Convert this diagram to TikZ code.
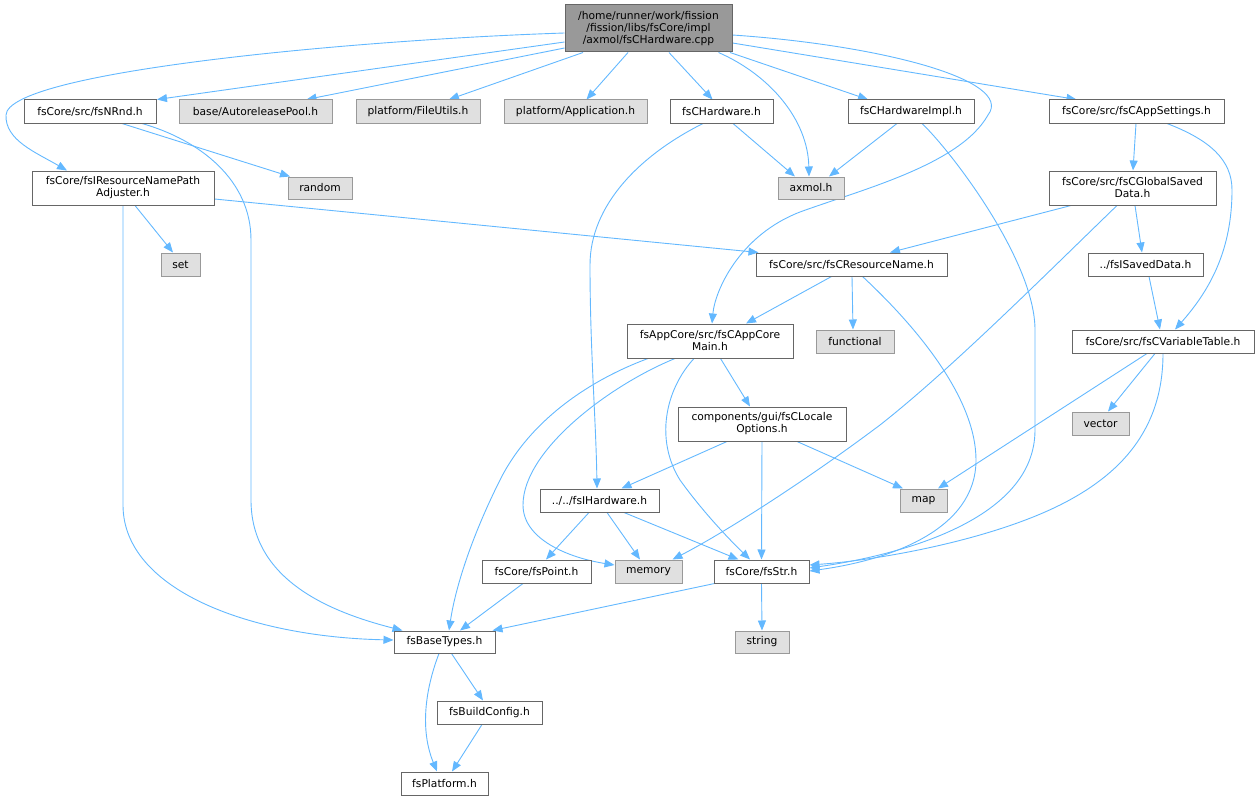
\documentclass[tikz,border=0pt]{standalone}
\usepackage{fontspec}
\setmainfont{DejaVu Sans}
\usetikzlibrary{arrows.meta,backgrounds}
\definecolor{edgec}{HTML}{63B8FF}
\definecolor{bdark}{HTML}{666666}
\definecolor{blight}{HTML}{999999}
\definecolor{gfill}{HTML}{E0E0E0}
\definecolor{rootfill}{HTML}{999999}
\newcommand\nodefont{\fontsize{10.7}{12}\selectfont}
\tikzset{
  wnode/.style={draw=bdark, fill=white, line width=1pt, inner sep=0pt, align=center, font=\nodefont, text=black},
  gnode/.style={draw=blight, fill=gfill, line width=1pt, inner sep=0pt, align=center, font=\nodefont, text=black},
  rnode/.style={draw=bdark, fill=rootfill, line width=1pt, inner sep=0pt, align=center, font=\nodefont, text=black},
  edge/.style={draw=edgec, line width=0.9pt, -{Triangle[length=10pt,width=8pt]}},
}
\begin{document}
\begin{tikzpicture}[x=1pt,y=-1pt]
\useasboundingbox (0,0) rectangle (1259,800);
% nodes
\node[rnode, minimum width=167pt, minimum height=47pt] (root) at (648.5,28.5) {/home/runner/work/fission\\/fission/libs/fsCore/impl\\/axmol/fsCHardware.cpp};
\node[wnode, minimum width=132pt, minimum height=23pt] (nrnd) at (90,111.5) {fsCore/src/fsNRnd.h};
\node[gnode, minimum width=153pt, minimum height=23pt] (pool) at (255.5,111.5) {base/AutoreleasePool.h};
\node[gnode, minimum width=124pt, minimum height=23pt] (fileutils) at (418,111.5) {platform/FileUtils.h};
\node[gnode, minimum width=143pt, minimum height=23pt] (app) at (575.5,111.5) {platform/Application.h};
\node[wnode, minimum width=103pt, minimum height=23pt] (fsch) at (721.5,111.5) {fsCHardware.h};
\node[wnode, minimum width=126pt, minimum height=23pt] (impl) at (911,111.5) {fsCHardwareImpl.h};
\node[wnode, minimum width=175pt, minimum height=23pt] (apps) at (1136.5,111.5) {fsCore/src/fsCAppSettings.h};
\node[gnode, minimum width=66pt, minimum height=22pt] (axmol) at (811,188) {axmol.h};
\node[gnode, minimum width=64pt, minimum height=22pt] (random) at (320,188) {random};
\node[wnode, minimum width=182pt, minimum height=34pt] (ira) at (123,188) {fsCore/fsIResourceNamePath\\Adjuster.h};
\node[wnode, minimum width=167pt, minimum height=34pt] (gsd) at (1132.5,188) {fsCore/src/fsCGlobalSaved\\Data.h};
\node[gnode, minimum width=39pt, minimum height=23pt] (set) at (180.5,264.5) {set};
\node[wnode, minimum width=191pt, minimum height=23pt] (resname) at (851.5,264.5) {fsCore/src/fsCResourceName.h};
\node[wnode, minimum width=115pt, minimum height=23pt] (isd) at (1145.5,264.5) {../fsISavedData.h};
\node[wnode, minimum width=166pt, minimum height=34pt] (acm) at (710,341) {fsAppCore/src/fsCAppCore\\Main.h};
\node[gnode, minimum width=78pt, minimum height=23pt] (functional) at (855,341.5) {functional};
\node[wnode, minimum width=182pt, minimum height=23pt] (cvt) at (1163,341.5) {fsCore/src/fsCVariableTable.h};
\node[gnode, minimum width=57pt, minimum height=23pt] (vector) at (1100.5,423.5) {vector};
\node[wnode, minimum width=168pt, minimum height=34pt] (locale) at (762,424) {components/gui/fsCLocale\\Options.h};
\node[gnode, minimum width=47pt, minimum height=23pt] (map) at (923.5,500.5) {map};
\node[wnode, minimum width=119pt, minimum height=23pt] (fsih) at (599.5,500.5) {../../fsIHardware.h};
\node[wnode, minimum width=109pt, minimum height=23pt] (point) at (536.5,571.5) {fsCore/fsPoint.h};
\node[gnode, minimum width=67pt, minimum height=23pt] (memory) at (648.5,571.5) {memory};
\node[wnode, minimum width=95pt, minimum height=23pt] (fsstr) at (761.5,571.5) {fsCore/fsStr.h};
\node[wnode, minimum width=101pt, minimum height=22pt] (bt) at (444.5,642) {fsBaseTypes.h};
\node[gnode, minimum width=54pt, minimum height=22pt] (string) at (762,642) {string};
\node[wnode, minimum width=105pt, minimum height=23pt] (bc) at (489.5,712.5) {fsBuildConfig.h};
\node[wnode, minimum width=87pt, minimum height=23pt] (plat) at (444.5,783.5) {fsPlatform.h};
% edges
\begin{scope}[on background layer]
\draw[edge] ([yshift=-4.5pt]root.west) .. controls (350,40) and (8,72) .. (6,115) .. controls (5,140) and (35,152) .. ([xshift=-56pt]ira.north);
\draw[edge] ([yshift=-13.5pt]root.west) -- ([xshift=67pt]nrnd.north);
\draw[edge] ([yshift=-19.5pt]root.west) -- ([xshift=51pt]pool.north);
\draw[edge] ([xshift=-65.5pt]root.south) -- ([xshift=31pt]fileutils.north);
\draw[edge] ([xshift=-20.5pt]root.south) -- ([xshift=11pt]app.north);
\draw[edge] ([xshift=20.5pt]root.south) -- ([xshift=-9pt]fsch.north);
\draw[edge] ([xshift=70pt]root.south) .. controls (770,75) and (808,120) .. ([xshift=-2pt]axmol.north);
\draw[edge] ([xshift=81.5pt]root.south) -- ([xshift=-43pt]impl.north);
\draw[edge] ([yshift=-6.5pt]root.east) .. controls (880,45) and (1015,80) .. (988,115) .. controls (960,165) and (860,190) .. (800,212) .. controls (740,235) and (715,290) .. ([xshift=2pt]acm.north);
\draw[edge] ([yshift=-14.5pt]root.east) -- ([xshift=-60pt]apps.north);
\draw[edge] ([xshift=32pt]nrnd.south) -- ([xshift=-30pt]random.north);
\draw[edge] ([xshift=52pt]nrnd.south) .. controls (200,140) and (251,180) .. (251,240) -- (251,500) .. controls (251,580) and (330,612) .. ([xshift=-42pt]bt.north);
\draw[edge] ([xshift=12pt]ira.south) -- ([xshift=-7.5pt]set.north);
\draw[edge] (ira.south) -- (123,505) .. controls (123,590) and (250,637) .. ([yshift=2pt]bt.west);
\draw[edge] ([yshift=-11pt]ira.east) -- ([xshift=3pt]resname.north west);
\draw[edge] ([xshift=11.5pt]fsch.south) -- ([xshift=-16pt]axmol.north);
\draw[edge] ([xshift=-18.5pt]fsch.south) .. controls (640,155) and (590,205) .. (590,265) .. controls (590,350) and (596,420) .. ([xshift=-2.5pt]fsih.north);
\draw[edge] ([xshift=-14pt]impl.south) -- ([xshift=18pt]axmol.north);
\draw[edge] ([xshift=11pt]impl.south) .. controls (950,150) and (1035,260) .. (1035,330) -- (1035,430) .. controls (1035,520) and (900,555) .. ([yshift=3.5pt]fsstr.east);
\draw[edge] ([xshift=-0.5pt]apps.south) -- ([xshift=0.5pt]gsd.north);
\draw[edge] ([xshift=30.5pt]apps.south) .. controls (1210,140) and (1232,160) .. (1232,190) .. controls (1232,250) and (1210,290) .. ([xshift=12pt]cvt.north);
\draw[edge] ([xshift=-61.5pt]gsd.south) -- ([xshift=38.5pt]resname.north);
\draw[edge] ([xshift=-15.5pt]gsd.south) .. controls (1040,280) and (950,370) .. (880,425) .. controls (800,485) and (720,535) .. ([xshift=-10pt]memory.north east);
\draw[edge] ([xshift=2.5pt]gsd.south) -- ([xshift=-3.5pt]isd.north);
\draw[edge] ([xshift=3.5pt]isd.south) -- ([xshift=-3pt]cvt.north);
\draw[edge] ([xshift=-20pt]resname.south) -- ([xshift=36pt]acm.north);
\draw[edge] ([xshift=0.5pt]resname.south) -- ([xshift=-2pt]functional.north);
\draw[edge] ([xshift=11pt]resname.south) .. controls (920,330) and (976,400) .. (976,460) .. controls (976,530) and (890,560) .. ([yshift=0.5pt]fsstr.east);
\draw[edge] ([xshift=-16pt]cvt.south) -- ([xshift=14.5pt]map.north);
\draw[edge] ([xshift=-8pt]cvt.south) -- ([xshift=7.5pt]vector.north);
\draw[edge] (cvt.south) .. controls (1163,430) and (1120,475) .. (1060,505) .. controls (990,540) and (880,560) .. ([yshift=6.5pt]fsstr.east);
\draw[edge] ([xshift=-62pt]acm.south) .. controls (590,380) and (530,420) .. (500,480) .. controls (470,540) and (455,590) .. ([xshift=4.5pt]bt.north);
\draw[edge] ([xshift=-35pt]acm.south) .. controls (610,385) and (523,450) .. (523,505) .. controls (523,540) and (570,558) .. ([yshift=6.5pt]memory.west);
\draw[edge] ([xshift=-16pt]acm.south) .. controls (665,390) and (655,440) .. (680,480) .. controls (705,515) and (735,545) .. ([xshift=-11.5pt]fsstr.north);
\draw[edge] ([xshift=10.5pt]acm.south) -- ([xshift=-12pt]locale.north);
\draw[edge] ([xshift=-35pt]locale.south) -- ([xshift=22pt]fsih.north);
\draw[edge] (locale.south) -- (fsstr.north);
\draw[edge] ([xshift=35pt]locale.south) -- ([xshift=-20.5pt]map.north);
\draw[edge] ([xshift=-10.5pt]fsih.south) -- ([xshift=9.5pt]point.north);
\draw[edge] ([xshift=7.5pt]fsih.south) -- ([xshift=-8.5pt]memory.north);
\draw[edge] ([xshift=24.5pt]fsih.south) -- ([xshift=-23pt]fsstr.north);
\draw[edge] ([xshift=-13.5pt]point.south) -- ([xshift=15.5pt]bt.north);
\draw[edge] ([xshift=1pt]fsstr.south west) -- ([xshift=-3pt]bt.north east);
\draw[edge] (fsstr.south) -- (string.north);
\draw[edge] ([xshift=-5.5pt]bt.south) .. controls (425,690) and (420,730) .. ([xshift=-7.5pt]plat.north);
\draw[edge] ([xshift=7pt]bt.south) -- ([xshift=-6.5pt]bc.north);
\draw[edge] ([xshift=-7.5pt]bc.south) -- ([xshift=7.5pt]plat.north);
\end{scope}
\end{tikzpicture}
\end{document}
